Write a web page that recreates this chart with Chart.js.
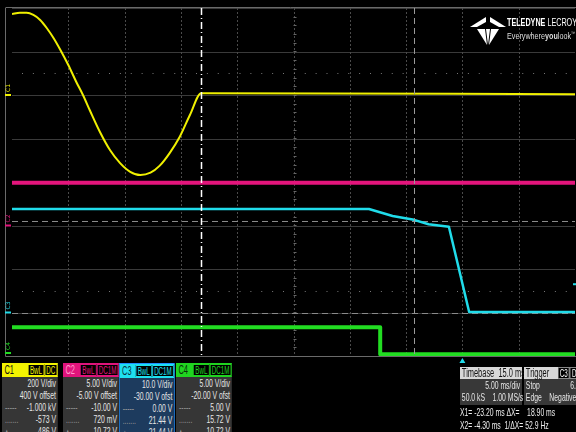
<!DOCTYPE html>
<html>
<head>
<meta charset="utf-8">
<script src="https://cdn.jsdelivr.net/npm/chart.js@4.4.1/dist/chart.umd.min.js"></script>
<style>
html, body { margin: 0; padding: 0; background: #000; overflow: hidden; }
#wrap { position: relative; width: 576px; height: 432px; overflow: hidden;
    font-family: "Liberation Sans", Arial, sans-serif; font-size: 11px; color: #e6e6e6; }
#scope { position: absolute; left: 0; top: 0; }
/* the scope font is narrow: squeeze every text block horizontally */
.nar { position: absolute; transform: scaleX(0.62); transform-origin: 0 0; white-space: nowrap; }
.ch { top: 363px; width: 90px; height: 80px; background: #363636; box-sizing: border-box; }
.hd { height: 14px; line-height: 14px; display: flex; align-items: center; padding-left: 4px; }
.hd .nm { flex: 1; font-size: 12px; white-space: pre; }
.tag { height: 12px; line-height: 11px; font-size: 10px; background: #000; border: 1px solid; padding: 0 2px; box-sizing: border-box; margin-right: 1px; }
.row { height: 12px; line-height: 12px; text-align: right; padding-right: 3px; position: relative; }
.row .mk { position: absolute; left: 5px; color: #999; }
.box { top: 367px; background: #383838; height: 38px; }
.lrow { height: 12px; line-height: 13px; padding-left: 3px; white-space: pre; }
.cur { left: 460px; font-size: 11px; color: #eee; white-space: pre; }
</style>
</head>
<body>
<div id="wrap">
<canvas id="scope" width="576" height="432"></canvas>

<div class="nar" style="left:507px;top:17px;font-size:10px;color:#fff;transform:scaleX(0.72)"><b>TELEDYNE</b> LECROY</div>
<div class="nar" style="left:507px;top:30px;font-size:9px;color:#ddd;transform:scaleX(0.8)">Everywhere<b>you</b>look<sup style="font-size:5px">™</sup></div>

<div class="nar ch" style="left:2px">
  <div class="hd" style="background:#f2f200;color:#111"><span class="nm">C1</span><span class="tag" style="color:#f2f200;border-color:#f2f200">BwL</span><span class="tag" style="color:#f2f200;border-color:#f2f200">DC</span></div>
  <div class="row">200 V/div</div>
  <div class="row">400 V offset</div>
  <div class="row"><span class="mk">-----</span>-1.000 kV</div>
  <div class="row"><span class="mk">.......</span>-573 V</div>
  <div class="row"><span class="mk">&#9652;</span>-486 V</div>
</div>
<div class="nar ch" style="left:63px">
  <div class="hd" style="background:#e0147c;color:#ff9acb"><span class="nm">C2</span><span class="tag" style="color:#e0147c;border-color:#e0147c">BwL</span><span class="tag" style="color:#e0147c;border-color:#e0147c">DC1M</span></div>
  <div class="row">5.00 V/div</div>
  <div class="row">-5.00 V offset</div>
  <div class="row"><span class="mk">-----</span>-10.00 V</div>
  <div class="row"><span class="mk">.......</span>720 mV</div>
  <div class="row"><span class="mk">&#9652;</span>10.72 V</div>
</div>
<div class="nar ch" style="left:119px;background:#1d3b5e;border:1px solid #1e8fff">
  <div class="hd" style="background:#1ee0f0;color:#0a3040"><span class="nm">C3</span><span class="tag" style="color:#1ee0f0;border-color:#1ee0f0">BwL</span><span class="tag" style="color:#1ee0f0;border-color:#1ee0f0">DC1M</span></div>
  <div class="row">10.0 V/div</div>
  <div class="row">-30.00 V ofst</div>
  <div class="row"><span class="mk">-----</span>0.00 V</div>
  <div class="row"><span class="mk">.......</span>21.44 V</div>
  <div class="row"><span class="mk">&#9652;</span>21.44 V</div>
</div>
<div class="nar ch" style="left:176px">
  <div class="hd" style="background:#20d420;color:#0a300a"><span class="nm">C4</span><span class="tag" style="color:#20d420;border-color:#20d420">BwL</span><span class="tag" style="color:#20d420;border-color:#20d420">DC1M</span></div>
  <div class="row">5.00 V/div</div>
  <div class="row">-20.00 V ofst</div>
  <div class="row"><span class="mk">-----</span>5.00 V</div>
  <div class="row"><span class="mk">.......</span>15.72 V</div>
  <div class="row"><span class="mk">&#9652;</span>10.72 V</div>
</div>

<div class="nar box" style="left:460px;width:100px">
  <div class="hd" style="background:#d8d8d8;color:#111;height:12px;line-height:12px;padding-left:3px"><span class="nm">Timebase  15.0 ms</span></div>
  <div class="row">5.00 ms/div</div>
  <div class="lrow">50.0 kS    1.00 MS/s</div>
</div>
<div class="nar box" style="left:524px;width:100px">
  <div class="hd" style="background:#d8d8d8;color:#111;height:12px;line-height:12px;padding-left:3px"><span class="nm" style="flex:0 0 auto;margin-right:14px">Trigger</span><span class="tag" style="color:#fff;border-color:#888">C3</span><span class="tag" style="color:#fff;border-color:#888">DC</span></div>
  <div class="lrow">Stop                6.5 V</div>
  <div class="lrow">Edge    Negative</div>
</div>
<div class="nar cur" style="top:406px">X1= -23.20 ms ΔX=    18.90 ms</div>
<div class="nar cur" style="top:419px">X2= -4.30 ms  1/ΔX= 52.9 Hz</div>
</div>

<script>
// Channel settings (V/div and offset), as shown in the readout
const voltsPerDiv = [200, 5, 10, 5];
const offsets = [400, -5, -30, -20];
const traceColors = ['#f0f000', '#e4157c', '#20dcea', '#22dd22'];

// C1: line voltage (ms, V)
const c1Time = [-40, -39.3, -38.7, -38.1, -37.5, -36.9, -36.3, -35.7, -35.0, -34.3, -33.7, -33.1,
    -32.2, -31.3, -30.4, -29.5, -28.6, -27.7, -26.9, -26.0, -25.1, -24.2, -23.2, -22.6, 10];
const c1Volts = [372, 378, 378, 368, 345, 307, 261, 207, 138, 61, 0, -69,
    -169, -253, -313, -353, -368, -357, -326, -267, -192, -92, 8, 8, 4];

// C2: flat
const c2Time = [-40, 10];
const c2Volts = [4.9, 4.9];

// C3: slowly sagging then falls
const c3Time = [-40, -8.3, -7.4, -6.2, -4.3, -3.0, -1.2, 0.6, 10];
const c3Volts = [23.8, 23.8, 23.1, 22.2, 21.3, 20.3, 19.7, 0.1, 0.1];

// C4: logic level drops
const c4Time = [-40, -7.3, -7.3, 10];
const c4Volts = [3.3, 3.3, 0.2, 0.2];

// Cursors and trigger
const cursorX1 = -23.2;
const cursorX2 = -4.3;
const triggerTime = 0;
const triggerLevel = 6.5; // C3

function toDivs(times, volts, ch) {
    return times.map((t, i) => ({ x: t, y: (volts[i] + offsets[ch]) / voltsPerDiv[ch] }));
}

const scopeGrid = {
    id: 'scopeGrid',
    beforeDatasetsDraw(chart) {
        const { ctx, chartArea: a, scales: { x, y } } = chart;
        ctx.save();
        ctx.lineWidth = 1;

        // horizontal division lines
        ctx.strokeStyle = '#3a3a3a';
        for (let d = -4; d <= 4; d++) {
            const py = Math.round(y.getPixelForValue(d)) + 0.5;
            ctx.beginPath(); ctx.moveTo(a.left, py); ctx.lineTo(a.right, py); ctx.stroke();
        }
        // vertical division lines (dotted)
        ctx.setLineDash([2, 2]);
        ctx.strokeStyle = '#4a4a4a';
        for (let t = -35; t < 10; t += 5) {
            const px = Math.round(x.getPixelForValue(t)) + 0.5;
            ctx.beginPath(); ctx.moveTo(px, a.top); ctx.lineTo(px, a.bottom); ctx.stroke();
        }
        // dotted sub-div rows
        ctx.setLineDash([1, (y.getPixelForValue(0) - y.getPixelForValue(1)) / 4 - 1]);
        ctx.strokeStyle = '#777';
        [2.5, -2.5].forEach(d => {
            const py = Math.round(y.getPixelForValue(d)) + 0.5;
            ctx.beginPath(); ctx.moveTo(a.left + 10, py); ctx.lineTo(a.right, py); ctx.stroke();
        });
        ctx.setLineDash([]);
        // ticks on the centre vertical axis
        const cx = Math.round(x.getPixelForValue(-15)) + 0.5;
        ctx.strokeStyle = '#666';
        for (let d = -4; d <= 4; d += 0.2) {
            const py = Math.round(y.getPixelForValue(d)) + 0.5;
            ctx.beginPath(); ctx.moveTo(cx - 1, py); ctx.lineTo(cx + 2, py); ctx.stroke();
        }
        // reference dashed lines for C2 and C3
        ctx.setLineDash([6, 4]);
        ctx.strokeStyle = '#8a8a8a';
        [-0.9, -3].forEach(d => {
            const py = Math.round(y.getPixelForValue(d)) + 0.5;
            ctx.beginPath(); ctx.moveTo(a.left, py); ctx.lineTo(a.right, py); ctx.stroke();
        });
        ctx.setLineDash([]);

        // frame
        ctx.strokeStyle = '#6a6a6a';
        ctx.beginPath();
        ctx.moveTo(5.5, a.top); ctx.lineTo(5.5, a.bottom + 0.5); ctx.lineTo(576, a.bottom + 0.5);
        ctx.moveTo(5.5, a.top - 0.5); ctx.lineTo(576, a.top - 0.5);
        ctx.stroke();
        ctx.restore();
    },
    afterDatasetsDraw(chart) {
        const { ctx, chartArea: a, scales: { x, y } } = chart;
        ctx.save();
        // X1 cursor, dash-dot
        let px = Math.round(x.getPixelForValue(cursorX1)) + 0.5;
        ctx.strokeStyle = '#ffffff';
        ctx.lineWidth = 1.5;
        ctx.setLineDash([7, 3, 1, 3]);
        ctx.beginPath(); ctx.moveTo(px, a.top); ctx.lineTo(px, a.bottom); ctx.stroke();
        // X2 cursor, dashed
        px = Math.round(x.getPixelForValue(cursorX2)) + 0.5;
        ctx.strokeStyle = '#9a9a9a';
        ctx.lineWidth = 1;
        ctx.setLineDash([6, 4]);
        ctx.beginPath(); ctx.moveTo(px, a.top); ctx.lineTo(px, a.bottom); ctx.stroke();
        ctx.setLineDash([]);

        // trigger markers
        const tx = x.getPixelForValue(triggerTime);
        ctx.fillStyle = traceColors[2];
        ctx.beginPath(); ctx.moveTo(tx - 3, a.bottom + 7); ctx.lineTo(tx + 3, a.bottom + 7); ctx.lineTo(tx, a.bottom + 2); ctx.fill();
        const ty = y.getPixelForValue((triggerLevel + offsets[2]) / voltsPerDiv[2]);
        ctx.fillRect(a.right - 2, ty - 1, 3, 2);

        // channel ground markers on the left
        ctx.font = '6px "DejaVu Sans", sans-serif';
        offsets.forEach((off, ch) => {
            const gy = Math.min(a.bottom - 3, y.getPixelForValue(off / voltsPerDiv[ch]));
            ctx.fillStyle = traceColors[ch];
            ctx.fillRect(5, gy - 1, 6, 2);
            ctx.save();
            ctx.translate(10, gy - 3);
            ctx.rotate(-Math.PI / 2);
            ctx.fillText('C' + (ch + 1), 0, 0);
            ctx.restore();
        });

        // logo mark
        ctx.fillStyle = '#ffffff';
        const shapes = [
            [[470, 27], [486, 17], [486, 22], [477, 27]],
            [[490, 17], [506, 27], [499, 27], [490, 22]],
            [[477, 29], [485, 29], [487, 45]],
            [[486, 29], [490, 29], [488, 45]],
            [[491, 29], [499, 29], [489, 45]]
        ];
        shapes.forEach(s => {
            ctx.beginPath();
            s.forEach((p, i) => i ? ctx.lineTo(p[0], p[1]) : ctx.moveTo(p[0], p[1]));
            ctx.closePath(); ctx.fill();
        });
        ctx.restore();
    }
};

const ctx = document.getElementById('scope').getContext('2d');
new Chart(ctx, {
    type: 'line',
    data: {
        datasets: [
            { data: toDivs(c2Time, c2Volts, 1), borderColor: traceColors[1], borderWidth: 4 },
            { data: toDivs(c4Time, c4Volts, 3), borderColor: traceColors[3], borderWidth: 4 },
            { data: toDivs(c3Time, c3Volts, 2), borderColor: traceColors[2], borderWidth: 2.5 },
            { data: toDivs(c1Time, c1Volts, 0), borderColor: traceColors[0], borderWidth: 2, cubicInterpolationMode: 'monotone' }
        ]
    },
    options: {
        responsive: false,
        animation: false,
        events: [],
        layout: { padding: { left: 12, right: 1, top: 8, bottom: 76 } },
        elements: { point: { radius: 0 }, line: { borderJoinStyle: 'round' } },
        plugins: { legend: { display: false }, tooltip: { enabled: false } },
        scales: {
            x: { type: 'linear', min: -40, max: 10, display: false },
            y: { type: 'linear', min: -4, max: 4, display: false }
        }
    },
    plugins: [scopeGrid]
});
</script>
</body>
</html>
